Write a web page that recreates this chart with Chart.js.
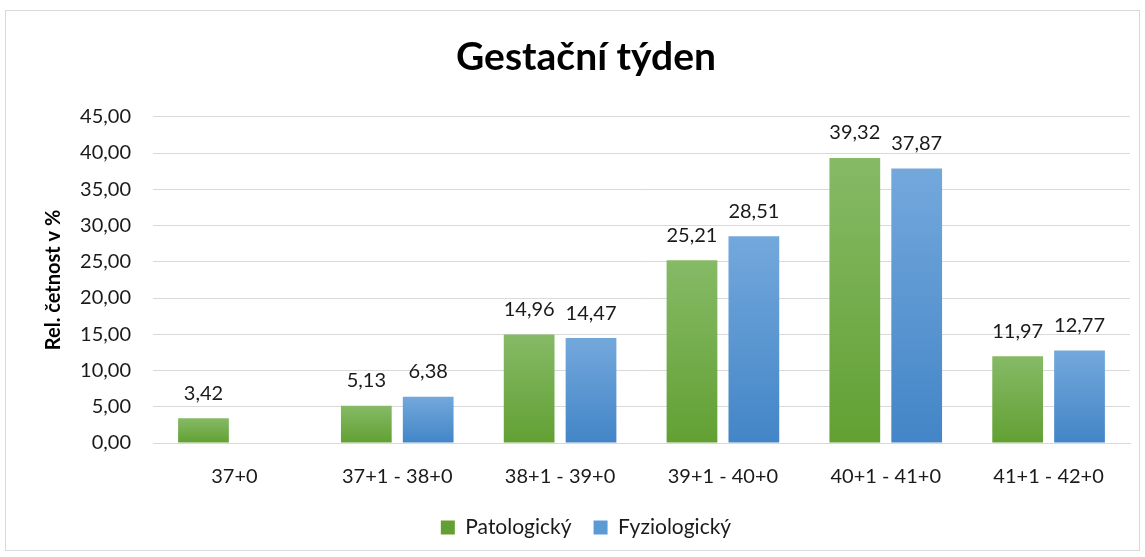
<!DOCTYPE html>
<html>
<head>
<meta charset="utf-8">
<script src="https://cdn.jsdelivr.net/npm/chart.js@4"></script>
<style>
  html, body { margin: 0; padding: 0; background: #fff; }
  #wrap { position: absolute; left: 0; top: 0; width: 1145px; height: 557px; }
</style>
</head>
<body>
<div id="wrap"><canvas id="graf" width="1145" height="557"></canvas></div>
<script>
const kategorie = ['37+0', '37+1 - 38+0', '38+1 - 39+0', '39+1 - 40+0', '40+1 - 41+0', '41+1 - 42+0'];
const patologicky = [3.42, 5.13, 14.96, 25.21, 39.32, 11.97];
const fyziologicky = [null, 6.38, 14.47, 28.51, 37.87, 12.77];

const FONT = 'Lato, "Open Sans", sans-serif';

function fmt(v) {
    return v.toFixed(2).replace('.', ',');
}

// gradient per bar, lighter on top like the Excel look
function barFill(top, bottom, solid) {
    return function (ctx) {
        if (ctx.type !== 'data') return solid;
        const chart = ctx.chart;
        const y = chart.scales.y;
        if (!chart.chartArea || !y) return solid;
        const v = ctx.raw;
        if (v == null) return solid;
        const y0 = y.getPixelForValue(0);
        const y1 = y.getPixelForValue(v);
        if (!isFinite(y0) || !isFinite(y1) || y0 === y1) return solid;
        const g = chart.ctx.createLinearGradient(0, y1, 0, y0);
        g.addColorStop(0, top);
        g.addColorStop(1, bottom);
        return g;
    };
}

const ramecek = {
    id: 'ramecek',
    beforeDraw(chart) {
        const c = chart.ctx;
        c.save();
        c.fillStyle = '#fff';
        c.fillRect(0, 0, chart.width, chart.height);
        c.strokeStyle = '#d9d9d9';
        c.lineWidth = 1;
        c.strokeRect(5.5, 10.5, 1134, 540);
        c.restore();
    }
};

const popisky = {
    id: 'popisky',
    afterDatasetsDraw(chart) {
        const c = chart.ctx;
        c.save();
        c.font = '20px ' + FONT;
        c.fillStyle = '#1a1a1a';
        c.textAlign = 'center';
        c.textBaseline = 'middle';
        chart.data.datasets.forEach((ds, i) => {
            const meta = chart.getDatasetMeta(i);
            meta.data.forEach((bar, j) => {
                const v = ds.data[j];
                if (v == null) return;
                c.fillText(fmt(v), bar.x, bar.y - 25);
            });
        });
        c.restore();
    }
};

new Chart(document.getElementById('graf'), {
    type: 'bar',
    data: {
        labels: kategorie,
        datasets: [
            {
                label: 'Patologický',
                data: patologicky,
                backgroundColor: barFill('#86ba66', '#62a033', '#6fac46'),
                borderWidth: 0
            },
            {
                label: 'Fyziologický',
                data: fyziologicky,
                backgroundColor: barFill('#73a8dc', '#4385c7', '#5b9bd5'),
                borderWidth: 0
            }
        ]
    },
    options: {
        responsive: false,
        animation: false,
        maintainAspectRatio: false,
        categoryPercentage: 0.76,
        barPercentage: 0.82,
        layout: { padding: { left: 42, right: 15, top: 0, bottom: 9 } },
        plugins: {
            title: {
                display: true,
                text: 'Gestační týden',
                color: '#000',
                font: { family: FONT, size: 39, weight: 'bold' },
                padding: { top: 34, bottom: 36 }
            },
            legend: {
                position: 'bottom',
                labels: {
                    color: '#1a1a1a',
                    font: { family: FONT, size: 21 },
                    boxWidth: 14,
                    boxHeight: 14,
                    padding: 22
                }
            },
            tooltip: { enabled: false }
        },
        scales: {
            x: {
                afterFit(scale) { scale.height = 52; },
                grid: { display: false, drawTicks: false },
                border: { display: true, color: '#d9d9d9', width: 1 },
                ticks: {
                    color: '#1a1a1a',
                    font: { family: FONT, size: 20 },
                    padding: 22,
                    maxRotation: 0
                }
            },
            y: {
                min: 0,
                max: 45,
                afterFit(scale) { scale.width = 111; },
                grid: { color: '#d9d9d9', drawTicks: false },
                border: { display: false },
                ticks: {
                    stepSize: 5,
                    color: '#1a1a1a',
                    font: { family: FONT, size: 20 },
                    padding: 22,
                    callback: v => fmt(v)
                },
                title: {
                    display: true,
                    text: 'Rel. četnost v %',
                    color: '#000',
                    font: { family: FONT, size: 20, weight: 'bold' },
                    padding: 0
                }
            }
        }
    },
    plugins: [ramecek, popisky]
});
</script>
</body>
</html>
